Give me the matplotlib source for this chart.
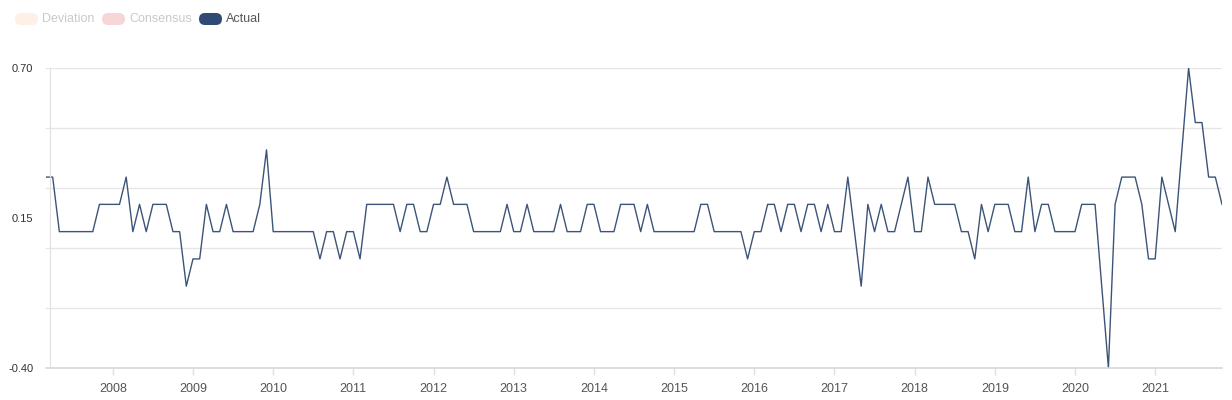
import matplotlib
matplotlib.use("Agg")
import matplotlib.pyplot as plt
import numpy as np
from matplotlib.patches import FancyBboxPatch
from matplotlib.transforms import IdentityTransform

plt.rcParams['font.family'] = ['Liberation Sans', 'DejaVu Sans']

# monthly readings, Mar 2007 .. Nov 2021
actual = [
    0.3, 0.3, 0.1, 0.1, 0.1, 0.1, 0.1, 0.1, 0.2, 0.2,   # 2007
    0.2, 0.2, 0.3, 0.1, 0.2, 0.1, 0.2, 0.2, 0.2, 0.1, 0.1, -0.1,   # 2008
    0.0, 0.0, 0.2, 0.1, 0.1, 0.2, 0.1, 0.1, 0.1, 0.1, 0.2, 0.4,   # 2009
    0.1, 0.1, 0.1, 0.1, 0.1, 0.1, 0.1, 0.0, 0.1, 0.1, 0.0, 0.1,   # 2010
    0.1, 0.0, 0.2, 0.2, 0.2, 0.2, 0.2, 0.1, 0.2, 0.2, 0.1, 0.1,   # 2011
    0.2, 0.2, 0.3, 0.2, 0.2, 0.2, 0.1, 0.1, 0.1, 0.1, 0.1, 0.2,   # 2012
    0.1, 0.1, 0.2, 0.1, 0.1, 0.1, 0.1, 0.2, 0.1, 0.1, 0.1, 0.2,   # 2013
    0.2, 0.1, 0.1, 0.1, 0.2, 0.2, 0.2, 0.1, 0.2, 0.1, 0.1, 0.1,   # 2014
    0.1, 0.1, 0.1, 0.1, 0.2, 0.2, 0.1, 0.1, 0.1, 0.1, 0.1, 0.0,   # 2015
    0.1, 0.1, 0.2, 0.2, 0.1, 0.2, 0.2, 0.1, 0.2, 0.2, 0.1, 0.2,   # 2016
    0.1, 0.1, 0.3, 0.1, -0.1, 0.2, 0.1, 0.2, 0.1, 0.1, 0.2, 0.3,  # 2017
    0.1, 0.1, 0.3, 0.2, 0.2, 0.2, 0.2, 0.1, 0.1, 0.0, 0.2, 0.1,   # 2018
    0.2, 0.2, 0.2, 0.1, 0.1, 0.3, 0.1, 0.2, 0.2, 0.1, 0.1, 0.1,   # 2019
    0.1, 0.2, 0.2, 0.2, -0.1, -0.4, 0.2, 0.3, 0.3, 0.3, 0.2, 0.0, # 2020
    0.0, 0.3, 0.2, 0.1, 0.4, 0.7, 0.5, 0.5, 0.3, 0.3, 0.2,        # 2021
]
years = list(range(2008, 2022))
y_ticks = [0.70, 0.15, -0.40]
y_grid = [0.70, 0.48, 0.26, 0.04, -0.18, -0.40]

start_offset = 10  # months from first reading to Jan 2008

fig = plt.figure(figsize=(12.32, 4), dpi=100)
ax = fig.add_axes([46 / 1232, 32 / 400, 1176 / 1232, 300 / 400])

x = np.arange(len(actual))
ax.plot(x, actual, color="#3b5478", lw=1.0)

ax.set_xlim(0, len(actual) - 1)
ax.set_ylim(-0.40, 0.70)

for g in y_grid:
    ax.axhline(g, color="#e6e6e6", lw=1, zorder=0)

ax.set_yticks(y_ticks)
ax.set_yticklabels(["%.2f" % v for v in y_ticks])
ax.tick_params(axis="y", length=0, pad=12, labelsize=8, labelcolor="#333333")

xt = [start_offset + 12 * i for i in range(len(years))]
ax.set_xticks(xt)
ax.set_xticklabels([str(y) for y in years])
ax.tick_params(axis="x", length=5, width=1, color="#e0e0e0", pad=6,
               labelsize=9, labelcolor="#555555")

for s in ["top", "right"]:
    ax.spines[s].set_visible(False)
ax.spines["bottom"].set_color("#d8d8d8")
ax.spines["bottom"].set_linewidth(1.2)
ax.spines["left"].set_color("#e0e0e0")
ax.spines["left"].set_position(("outward", -3))

# legend pills along the top (pixel coords, origin bottom-left)
legend = [("Deviation", "#fcf0e7", "#c9c9c9", 15),
          ("Consensus", "#f6d6d6", "#c9c9c9", 102),
          ("Actual", "#2e4a75", "#555555", 199)]
for name, fc, tc, px in legend:
    pill = FancyBboxPatch((px, 400 - 25), 23, 12,
                          boxstyle="round,pad=0,rounding_size=6",
                          transform=IdentityTransform(), fc=fc, ec="none")
    fig.patches.append(pill)
    fig.text((px + 27) / 1232, (400 - 19) / 400, name, color=tc,
             fontsize=9, va="center", ha="left")

fig.savefig("out.png", dpi=100)
